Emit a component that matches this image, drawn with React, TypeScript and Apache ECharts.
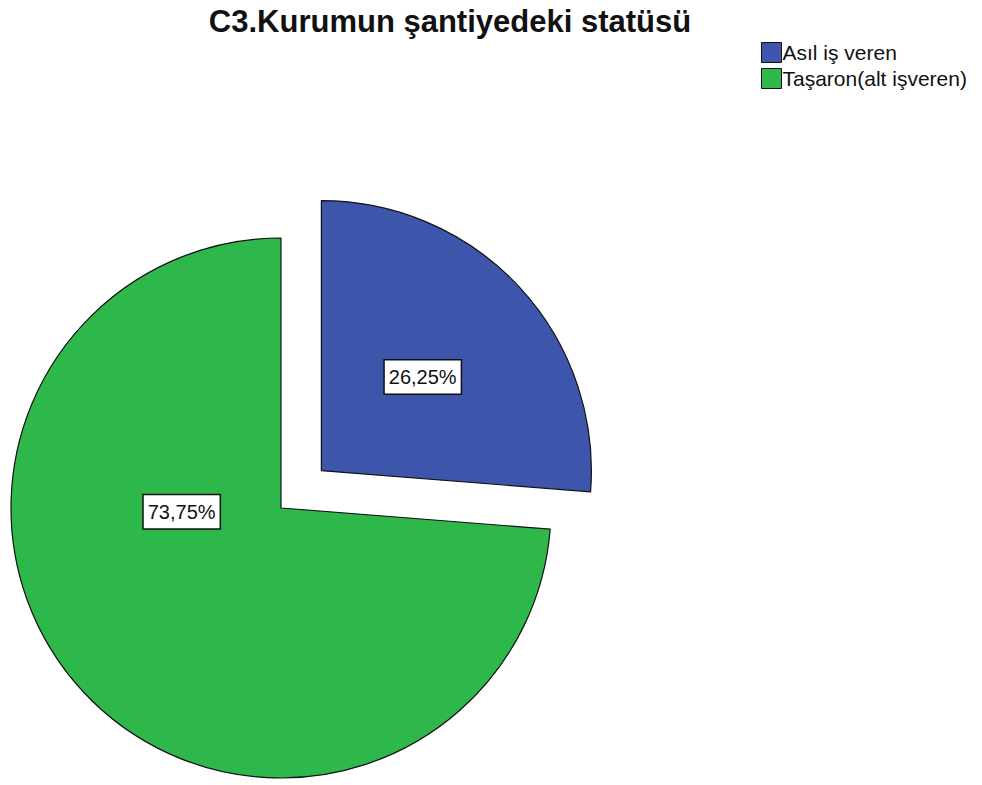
import React, { useEffect, useRef } from "react";
import * as echarts from "echarts";

const titleText = "C3.Kurumun şantiyedeki statüsü";
const categories = ["Asıl iş veren", "Taşaron(alt işveren)"];
const counts = [21, 59];
const colors = ["#3D56AB", "#2EB84B"];
const explodedIndex = 0;

export default function App() {
  const ref = useRef<HTMLDivElement>(null);
  useEffect(() => {
    if (!ref.current) return;
    const chart = echarts.init(ref.current, null, { renderer: "svg" });
    const total = counts.reduce((a, b) => a + b, 0);
    const data = categories.map((name, i) => ({
      name,
      value: counts[i],
      selected: i === explodedIndex,
      itemStyle: { color: colors[i] },
      label: i === 1 ? { offset: [2, -90] } : { offset: [-10, 0] },
    }));
    chart.setOption({
      animation: false,
      title: {
        text: titleText,
        left: 445,
        textAlign: "center",
        top: 1,
        textStyle: {
          fontFamily: "Liberation Sans, Arial, sans-serif",
          fontSize: 31,
          fontWeight: "bold",
          color: "#111",
        },
      },
      legend: {
        orient: "vertical",
        left: 756,
        top: 37,
        itemWidth: 20,
        itemHeight: 20,
        itemGap: 5,
        icon: "rect",
        selectedMode: false,
        data: categories,
        textStyle: {
          fontFamily: "Liberation Sans, Arial, sans-serif",
          fontSize: 21,
          color: "#111",
          padding: [0, 0, 0, -4],
        },
        itemStyle: { borderColor: "#111", borderWidth: 1 },
      },
      series: [
        {
          type: "pie",
          center: [281, 508],
          radius: 270,
          startAngle: 90,
          clockwise: true,
          selectedMode: "single",
          selectedOffset: 55,
          emphasis: { disabled: true },
          itemStyle: { borderColor: "#111", borderWidth: 1.2 },
          labelLine: { show: false },
          label: {
            show: true,
            position: "inner",
            fontFamily: "Liberation Sans, Arial, sans-serif",
            fontSize: 20,
            lineHeight: 22,
            color: "#111",
            backgroundColor: "#fff",
            borderColor: "#111",
            borderWidth: 1.5,
            padding: [6, 4, 5, 4],
            formatter: (p: any) =>
              ((p.value / total) * 100).toFixed(2).replace(".", ",") + "%",
          },
          data,
        },
      ],
    });
    return () => chart.dispose();
  }, []);
  return (
    <div
      ref={ref}
      style={{ position: "fixed", left: 0, top: 0, width: 982, height: 785, background: "#fff" }}
    />
  );
}
